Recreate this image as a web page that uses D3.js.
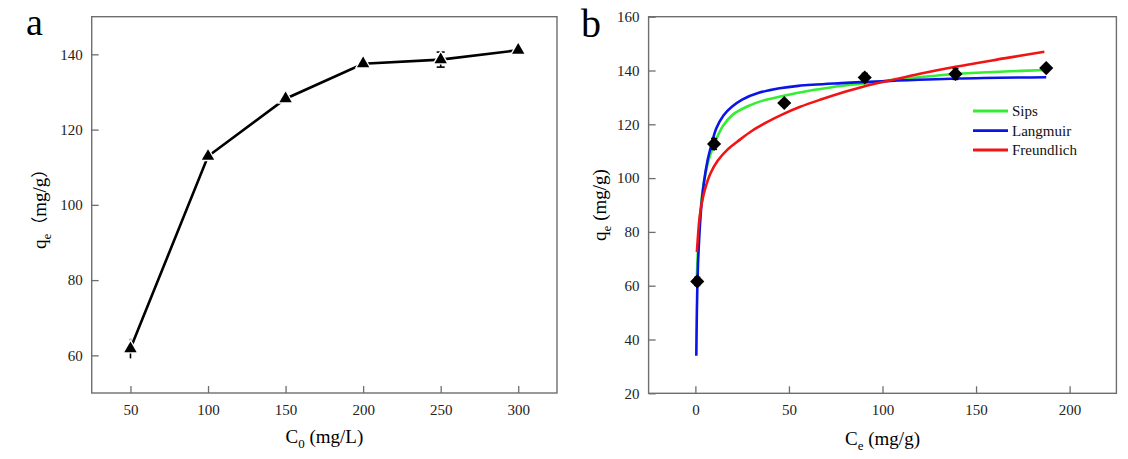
<!DOCTYPE html>
<html>
<head>
<meta charset="utf-8">
<script src="https://cdn.jsdelivr.net/npm/d3@7"></script>
<style>
html,body{margin:0;padding:0;background:#fff;}
svg, svg text{font-family:"Liberation Serif","Tinos","Times New Roman","DejaVu Serif",serif;}
</style>
</head>
<body>
<svg id="chart" width="1128" height="459" font-family="Liberation Serif, Tinos, DejaVu Serif, serif"></svg>
<script>
// ---------- Panel a data ----------
const c0 = [50, 100, 150, 200, 250, 300];
const qeA = [61.8, 112.9, 128.2, 137.5, 138.6, 141.1];
const errA = [2.6, 1.2, 0.8, 1.0, 2.0, 0.8];
const xTicksA = [50, 100, 150, 200, 250, 300];
const yTicksA = [60, 80, 100, 120, 140];

// ---------- Panel b data ----------
const ce = [1.0, 10.0, 47.5, 90.5, 139.0, 187.5];
const qeB = [61.6, 112.7, 127.9, 137.4, 138.7, 140.9];
const errB = [1.5, 2.0, 0.8, 1.5, 2.0, 0.6];
const xTicksB = [0, 50, 100, 150, 200];
const yTicksB = [20, 40, 60, 80, 100, 120, 140, 160];

// fitted curves
const sipsC = [0.6, 1.0, 1.5, 2.2, 2.8, 4.0, 5.5, 7.0, 8.9, 11.5, 14.8, 20, 28, 36, 46, 60, 73, 90, 110, 139, 165, 187.5];
const sipsQ = [60, 67, 75, 83, 88.5, 96, 102, 106.5, 110.5, 115, 119.5, 123.6, 126.7, 128.8, 130.4, 132.4, 133.8, 135.2, 136.8, 138.7, 139.6, 140.2];
const langC = [0.5, 0.7, 1.0, 1.4, 2.0, 3.0, 4.5, 6.5, 8.6, 11.2, 15, 19.5, 25, 33.5, 45, 55, 78, 100, 140, 187.5];
const langQ = [34, 46, 58, 68, 77, 88, 98, 106.5, 112.5, 118.5, 123.3, 126.5, 129.2, 131.6, 133.4, 134.3, 135.3, 136.0, 137.0, 137.5];
const freuC = [0.8, 1.5, 2.2, 3.1, 5.0, 8.1, 12, 17, 24, 30.3, 38, 46, 56, 67, 80, 89.6, 104, 120, 139, 165, 186.5];
const freuQ = [72.5, 79.5, 85.0, 89.4, 95.5, 101.8, 106.5, 110.5, 114.4, 117.6, 120.7, 123.5, 126.5, 129.2, 132.1, 134.0, 136.3, 138.8, 141.4, 144.5, 147.0];
const seriesNames = ["Sips", "Langmuir", "Freundlich"];
const seriesColors = ["#33ee33", "#0a14e6", "#f01414"];

const SERIF = '"Liberation Serif","Tinos","Times New Roman","DejaVu Serif",serif';
const CJK = '"Noto Sans CJK SC","Noto Sans CJK JP",sans-serif';
const svg = d3.select("#chart");
const axisColor = "#6e6e6e";
const tickFont = 15;

function drawFrame(g, x, y, xTicks, yTicks) {
  const [x0, x1] = x.range();
  const [y0, y1] = y.range();
  const ax = g.append("g").attr("transform", `translate(0,${y0})`)
    .call(d3.axisBottom(x).tickValues(xTicks).tickSizeInner(-7).tickSizeOuter(0).tickPadding(11).tickFormat(d3.format("d")));
  const ay = g.append("g").attr("transform", `translate(${x0},0)`)
    .call(d3.axisLeft(y).tickValues(yTicks).tickSizeInner(-7).tickSizeOuter(0).tickPadding(9).tickFormat(d3.format("d")));
  [ax, ay].forEach(a => {
    a.attr("font-family", null).attr("font-size", null);
    a.select(".domain").remove();
    a.selectAll("line").attr("stroke", axisColor).attr("stroke-width", 1.3);
    a.selectAll("text").attr("fill", "#222").attr("font-family", SERIF).style("font-family", SERIF).style("font-size", tickFont + "px");
  });
  ax.selectAll("text").attr("dy", "0.71em").attr("y", 11);
  ay.selectAll("text").attr("x", -9);
  g.append("rect").attr("x", x0).attr("y", y1).attr("width", x1 - x0).attr("height", y0 - y1)
    .attr("fill", "none").attr("stroke", axisColor).attr("stroke-width", 1.4);
}

function errorBars(g, xs, ys, es, x, y, cap) {
  xs.forEach((v, i) => {
    const cx = x(v), ya = y(ys[i] + es[i]), yb = y(ys[i] - es[i]);
    g.append("line").attr("x1", cx).attr("x2", cx).attr("y1", ya).attr("y2", yb).attr("stroke", "#000").attr("stroke-width", 1.6);
    if (es[i] >= 1.5 && es[i] < 2.5) {
      g.append("line").attr("x1", cx - cap).attr("x2", cx + cap).attr("y1", ya).attr("y2", ya).attr("stroke", "#000").attr("stroke-width", 1.6);
      g.append("line").attr("x1", cx - cap).attr("x2", cx + cap).attr("y1", yb).attr("y2", yb).attr("stroke", "#000").attr("stroke-width", 1.6);
    }
  });
}

function txt(g) {
  return g.append("text").attr("font-family", SERIF).style("font-family", SERIF);
}

// ---------- Panel a ----------
{
  const x = d3.scaleLinear().domain([25, 325]).range([91.7, 557]);
  const y = d3.scaleLinear().domain([50, 150]).range([393, 16.7]);
  const g = svg.append("g");
  drawFrame(g, x, y, xTicksA, yTicksA);
  const pts = c0.map((d, i) => [d, qeA[i]]);
  g.append("path").datum(pts)
    .attr("d", d3.line().x(d => x(d[0])).y(d => y(d[1])))
    .attr("fill", "none").attr("stroke", "#000").attr("stroke-width", 2.6);
  errorBars(g, c0, qeA, errA, x, y, 4);
  const tri = d3.symbol().type(d3.symbolTriangle);
  g.selectAll(".halo").data(pts).join("path")
    .attr("transform", d => `translate(${x(d[0])},${y(d[1])})`)
    .attr("d", tri.size(125)()).attr("fill", "#fff");
  g.selectAll(".tri").data(pts).join("path")
    .attr("transform", d => `translate(${x(d[0])},${y(d[1])})`)
    .attr("d", tri.size(66)()).attr("fill", "#000");

  txt(g).attr("x", 26).attr("y", 35).style("font-size", "38px").text("a");
  txt(g).attr("text-anchor", "middle").attr("x", (91.7 + 557) / 2).attr("y", 443).style("font-size", "19px")
    .call(t => {
      t.append("tspan").text("C");
      t.append("tspan").attr("dy", 5).style("font-size", "13px").text("0");
      t.append("tspan").attr("dy", -5).text(" (mg/L)");
    });
  txt(g).attr("text-anchor", "middle").attr("transform", `translate(46,${(16.7 + 393) / 2}) rotate(-90)`).style("font-size", "19px")
    .call(t => {
      t.append("tspan").text("q");
      t.append("tspan").attr("dy", 5).style("font-size", "13px").text("e");
      t.append("tspan").attr("dy", -5).style("font-family", CJK).style("font-size", "17px").text("（");
      t.append("tspan").text("mg/g");
      t.append("tspan").style("font-family", CJK).style("font-size", "17px").text("）");
    });
}

// ---------- Panel b ----------
{
  const x = d3.scaleLinear().domain([-25, 225]).range([648.6, 1116.4]);
  const y = d3.scaleLinear().domain([20, 160]).range([393.3, 16.7]);
  const g = svg.append("g");
  drawFrame(g, x, y, xTicksB, yTicksB);

  const curves = [
    sipsC.map((c, i) => [c, sipsQ[i]]),
    langC.map((c, i) => [c, langQ[i]]),
    freuC.map((c, i) => [c, freuQ[i]])
  ];
  const line = d3.line().x(d => x(d[0])).y(d => y(d[1])).curve(d3.curveCatmullRom.alpha(0.5));
  curves.forEach((pts, k) => {
    g.append("path").datum(pts).attr("d", line)
      .attr("fill", "none").attr("stroke", seriesColors[k]).attr("stroke-width", 2.6).attr("stroke-linejoin", "round");
  });

  errorBars(g, ce, qeB, errB, x, y, 3);
  const pts = ce.map((d, i) => [d, qeB[i]]);
  const sq = d3.symbol().type(d3.symbolSquare).size(100);
  g.selectAll(".dia").data(pts).join("path")
    .attr("transform", d => `translate(${x(d[0])},${y(d[1])}) rotate(45)`)
    .attr("d", sq()).attr("fill", "#000");

  const ly = [111, 130.7, 150];
  seriesNames.forEach((n, i) => {
    g.append("line").attr("x1", 973).attr("x2", 1008).attr("y1", ly[i]).attr("y2", ly[i])
      .attr("stroke", seriesColors[i]).attr("stroke-width", 2.8);
    txt(g).attr("x", 1012).attr("y", ly[i] + 5).style("font-size", "15px").attr("fill", "#111").text(n);
  });

  txt(g).attr("x", 581).attr("y", 37).style("font-size", "40px").text("b");
  txt(g).attr("text-anchor", "middle").attr("x", (648.6 + 1116.4) / 2).attr("y", 445).style("font-size", "19px")
    .call(t => {
      t.append("tspan").text("C");
      t.append("tspan").attr("dy", 5).style("font-size", "13px").text("e");
      t.append("tspan").attr("dy", -5).text(" (mg/g)");
    });
  txt(g).attr("text-anchor", "middle").attr("transform", `translate(606,${(16.7 + 393.3) / 2}) rotate(-90)`).style("font-size", "19px")
    .call(t => {
      t.append("tspan").text("q");
      t.append("tspan").attr("dy", 5).style("font-size", "13px").text("e");
      t.append("tspan").attr("dy", -5).text(" (mg/g)");
    });
}
</script>
</body>
</html>
